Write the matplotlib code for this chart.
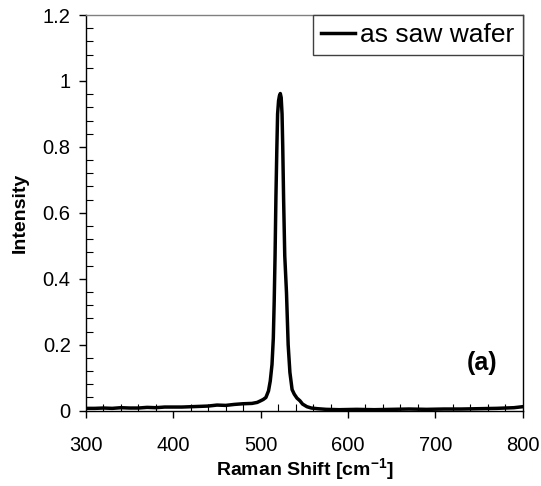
import matplotlib
matplotlib.use("Agg")
import matplotlib.pyplot as plt
from matplotlib.ticker import MultipleLocator

plt.rcParams['font.family'] = ['Liberation Sans', 'DejaVu Sans']
plt.rcParams['mathtext.fontset'] = 'custom'
plt.rcParams['mathtext.rm'] = 'Liberation Sans'
plt.rcParams['mathtext.bf'] = 'Liberation Sans:bold'

# Raman spectrum
shift = [300, 310, 320, 330, 340, 350, 360, 370, 380, 390, 400, 410, 420, 430,
         440, 450, 460, 470, 480, 490, 496, 500, 503, 506, 509, 511, 513, 514.5,
         515.5, 516.5, 517.5, 518.5, 519.4, 520.5, 521.5, 522.5, 523.5, 524.5,
         525.3, 526.3, 527.6, 529.6, 531.5, 533.5, 536, 538.5, 541.6, 545, 548,
         553, 558, 565, 575, 590, 610, 630, 650, 670, 690, 710, 730, 750, 770,
         790, 800]
intensity = [0.007, 0.007, 0.008, 0.007, 0.009, 0.008, 0.008, 0.010, 0.009,
             0.011, 0.011, 0.011, 0.012, 0.013, 0.014, 0.017, 0.016, 0.019,
             0.021, 0.022, 0.025, 0.030, 0.034, 0.040, 0.060, 0.090, 0.140,
             0.220, 0.330, 0.470, 0.650, 0.790, 0.900, 0.940, 0.955, 0.962,
             0.950, 0.900, 0.800, 0.640, 0.470, 0.357, 0.200, 0.116, 0.064,
             0.050, 0.038, 0.030, 0.020, 0.012, 0.008, 0.006, 0.004, 0.003,
             0.004, 0.003, 0.004, 0.005, 0.004, 0.005, 0.005, 0.006, 0.007,
             0.009, 0.012]

xticks = [300, 400, 500, 600, 700, 800]
yticks = [0, 0.2, 0.4, 0.6, 0.8, 1.0, 1.2]
ytick_labels = ['0', '0.2', '0.4', '0.6', '0.8', '1', '1.2']

fig = plt.figure(figsize=(5.41, 4.86), dpi=100)
ax = fig.add_axes([0.159, 0.155, 0.807, 0.814])

ax.plot(shift, intensity, color='black', lw=2.5, label='as saw wafer')

ax.set_xlim(300, 800)
ax.set_ylim(0, 1.2)
ax.set_xticks(xticks)
ax.set_yticks(yticks)
ax.set_yticklabels(ytick_labels)
ax.xaxis.set_minor_locator(MultipleLocator(20))
ax.yaxis.set_minor_locator(MultipleLocator(0.04))
ax.tick_params(which='major', direction='out', length=5, width=1,
               labelsize=14.5, pad=6)
ax.tick_params(axis='x', which='major', pad=13)
ax.tick_params(which='minor', direction='in', length=5, width=0.8)

for s in ['left', 'bottom', 'right']:
    ax.spines[s].set_color('black')
    ax.spines[s].set_linewidth(1)
ax.spines['top'].set_color('#808080')
ax.spines['top'].set_linewidth(1)

ax.set_xlabel(r'Raman Shift [cm$^{\mathbf{-1}}$]', fontsize=14,
              fontweight='bold', labelpad=1)
ax.set_ylabel('Intensity', fontsize=14, fontweight='bold', labelpad=10)

ax.text(753, 0.145, '(a)', fontsize=18, fontweight='bold',
        ha='center', va='center')

leg = ax.legend(loc='upper right', bbox_to_anchor=(1, 1), borderaxespad=0,
                fancybox=False, fontsize=19, handlelength=1.3,
                handletextpad=0.2, borderpad=0.3)
leg.get_frame().set_edgecolor('#404040')
leg.get_frame().set_linewidth(1)
leg.get_frame().set_alpha(1)

fig.savefig('out.png', dpi=100)
